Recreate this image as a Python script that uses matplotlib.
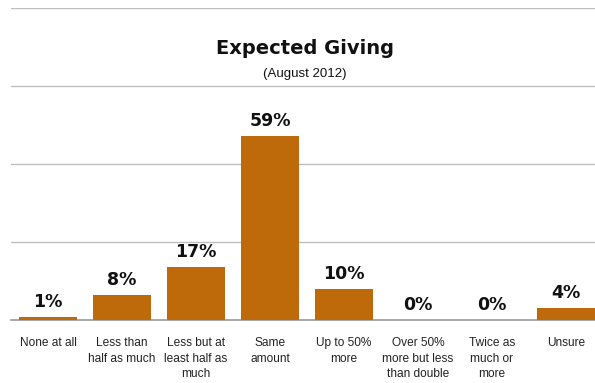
import matplotlib.pyplot as plt
import matplotlib as mpl

mpl.rcParams.update({
    'font.family': ['Liberation Sans', 'DejaVu Sans'],
})

# Survey answers and shares (%)
categories = ["None at all", "Less than\nhalf as much", "Less but at\nleast half as\nmuch",
              "Same\namount", "Up to 50%\nmore", "Over 50%\nmore but less\nthan double",
              "Twice as\nmuch or\nmore", "Unsure"]
values = [1, 8, 17, 59, 10, 0, 0, 4]
labels = ["1%", "8%", "17%", "59%", "10%", "0%", "0%", "4%"]

bar_color = "#BF6A0A"

fig = plt.figure(figsize=(5.95, 3.83), dpi=100)
ax = fig.add_axes([11 / 595, 63 / 383, 592 / 595, 312 / 383])

x = range(len(categories))
ax.bar(x, values, width=0.79, color=bar_color, zorder=3)

ax.set_xlim(-0.5, len(categories) - 0.5)
ax.set_ylim(0, 100)
ax.set_yticks([25, 50, 75, 100])
ax.yaxis.grid(True, color="#BEBEBE", linewidth=1)
ax.set_axisbelow(True)
ax.tick_params(axis="y", left=False, labelleft=False)
ax.tick_params(axis="x", bottom=False, pad=9)
ax.set_xticks(list(x))
ax.set_xticklabels(categories, fontsize=8.6, color="#222222", linespacing=1.35, va="top")

for s in ["left", "right", "top"]:
    ax.spines[s].set_visible(False)
ax.spines["bottom"].set_color("#999999")
ax.spines["bottom"].set_linewidth(1.2)

# Value labels above each bar
for i, (v, lab) in enumerate(zip(values, labels)):
    ax.annotate(lab, (i, v), xytext=(0, 4), textcoords="offset points",
                ha="center", va="bottom", fontsize=12.5, fontweight="bold",
                family=["DejaVu Sans"], color="#111111")

fig.text(305 / 595, 1 - 48 / 383, "Expected Giving", ha="center", va="center",
         fontsize=14, fontweight="bold", family=["DejaVu Sans"], color="#111111")
fig.text(305 / 595, 1 - 74 / 383, "(August 2012)", ha="center", va="center",
         fontsize=9.5, color="#111111")

fig.savefig("out.png", dpi=100)
